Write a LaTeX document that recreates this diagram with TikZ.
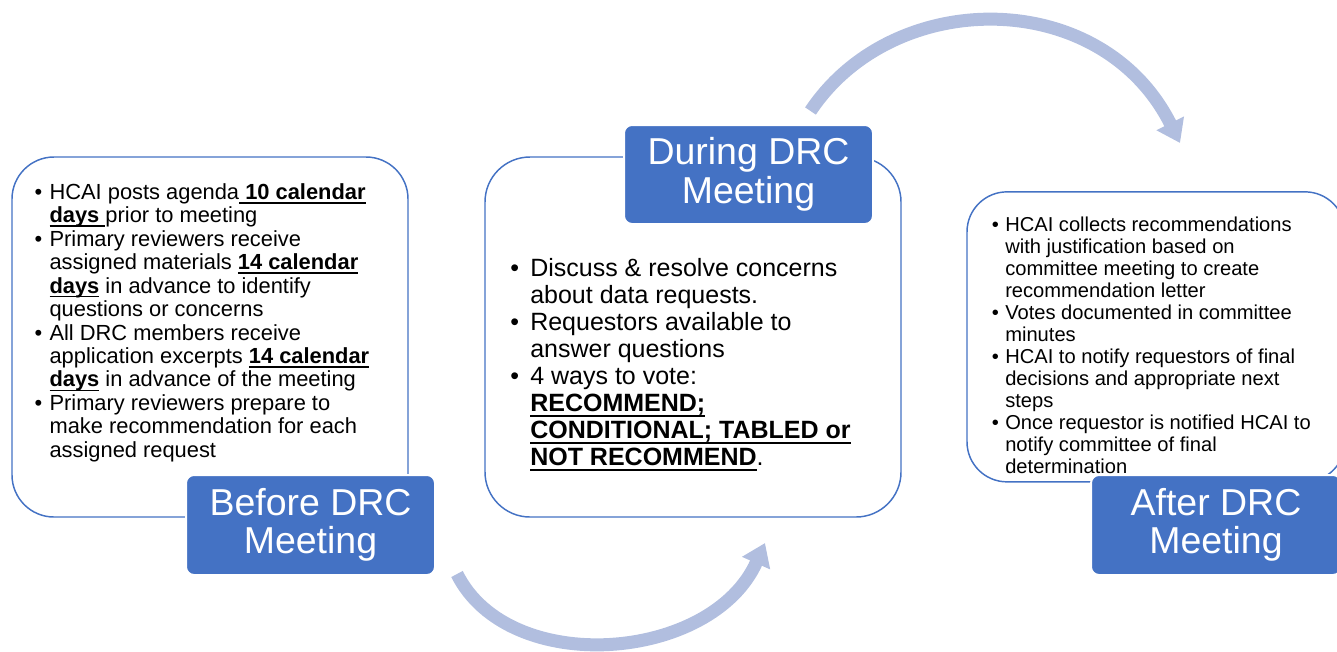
\documentclass[tikz,border=0pt]{standalone}
\usepackage{fontspec}
\setmainfont{Liberation Sans}
\usetikzlibrary{arrows.meta}
\definecolor{accent}{RGB}{68,114,196}
\definecolor{arrowc}{RGB}{177,190,223}
\newcommand{\bul}[1]{\llap{\makebox[#1][l]{\textbullet}}}
\newsavebox{\ubbox}
\newcommand{\ub}[1]{\sbox{\ubbox}{\textbf{#1}}\rlap{\rule[-0.2em]{\wd\ubbox}{0.075em}}\usebox{\ubbox}}
\begin{document}
\begin{tikzpicture}[x=0.75pt,y=-0.75pt,
  panel/.style={draw=accent, line width=1.1pt, fill=white, inner sep=0},
  stagelabel/.style={fill=accent, draw=white, line width=1.5pt, rounded corners=6pt,
    text=white, align=center, inner sep=0, font=\fontsize{28.1}{28.9}\selectfont},
  body/.style={anchor=north west, inner sep=0, align=left},
  flow/.style={draw=arrowc, line width=9.75pt, -{Triangle[length=16.5pt,width=22pt]}}
]
\useasboundingbox (0,0) rectangle (1337,651);
\clip (0,0) rectangle (1337,651);

% arrows
\coordinate (a1s) at (457,574);
\coordinate (a1e) at (765,543);
\coordinate (a2s) at (810.5,111);
\coordinate (a2e) at (1180,143);
\draw[flow] (a1s) .. controls (509,678) and (712,662) .. (a1e);
\draw[flow] (a2s) .. controls (893.7,-13.8) and (1101.8,-13.5) .. (a2e);

% panels
\node[panel, rounded corners=31.5pt, minimum width=297pt, minimum height=270pt] (p1) at (210,337) {};
\node[panel, rounded corners=33.75pt, minimum width=312pt, minimum height=270pt] (p2) at (693,337) {};
\node[panel, rounded corners=30pt, minimum width=283.5pt, minimum height=217.5pt] (p3) at (1156,336.85) {};

% texts
\node[body, font=\fontsize{16.4}{17.6}\selectfont] (t1) at (49.3,182.5) {%
\strut\bul{11.25pt}HCAI posts agenda\ub{\ 10 calendar}\\
\ub{days\ }prior to meeting\\
\bul{11.25pt}Primary reviewers receive\\
assigned materials \ub{14 calendar}\\
\ub{days} in advance to identify\\
questions or concerns\\
\bul{11.25pt}All DRC members receive\\
application excerpts \ub{14 calendar}\\
\ub{days} in advance of the meeting\\
\bul{11.25pt}Primary reviewers prepare to\\
make recommendation for each\\
assigned request};

\node[body, font=\fontsize{18.75}{20.25}\selectfont] (t2) at (530,257.8) {%
\strut\bul{15pt}Discuss \& resolve concerns\\
about data requests.\\
\bul{15pt}Requestors available to\\
answer questions\\
\bul{15pt}4 ways to vote:\\
\ub{RECOMMEND;}\\
\ub{CONDITIONAL; TABLED or}\\
\ub{NOT RECOMMEND}.};

\node[body, font=\fontsize{15.1}{16.5}\selectfont] (t3) at (1005,215.6) {%
\strut\bul{10pt}HCAI collects recommendations\\
with justification based on\\
committee meeting to create\\
recommendation letter\\
\bul{10pt}Votes documented in committee\\
minutes\\
\bul{10pt}HCAI to notify requestors of final\\
decisions and appropriate next\\
steps\\
\bul{10pt}Once requestor is notified HCAI to\\
notify committee of final\\
determination};

% stage labels
\node[stagelabel, minimum width=186.75pt, minimum height=75pt] (l1) at (310.5,525) {Before DRC\\Meeting};
\node[stagelabel, minimum width=186.75pt, minimum height=74.25pt] (l2) at (748.5,174.5) {During DRC\\Meeting};
\node[stagelabel, minimum width=187.5pt, minimum height=75pt] (l3) at (1216,525) {After DRC\\Meeting};
\end{tikzpicture}
\end{document}
